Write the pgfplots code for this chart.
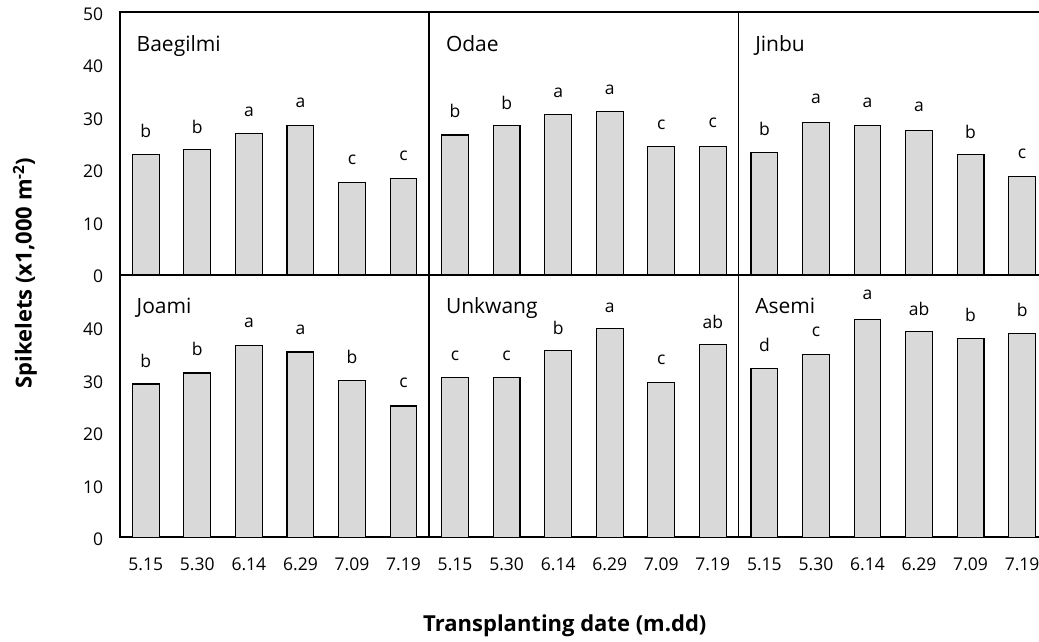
\documentclass[border=0pt]{standalone}
\usepackage{pgfplots}
\pgfplotsset{compat=1.18}
\usepackage{fontspec}
\setmainfont{Open Sans}
\definecolor{barfill}{HTML}{D9D9D9}
\newcommand{\tfs}{\fontsize{17.5}{20}\selectfont}
\newcommand{\pfs}{\fontsize{21}{24}\selectfont}
\newcommand{\lfs}{\bfseries\fontsize{22}{26}\selectfont}
\tikzset{
  bars/.style={fill=barfill, draw=black, line width=1.1pt},
  lett/.style={font=\tfs, inner sep=0pt},
  ttl/.style={font=\pfs, inner sep=0pt, anchor=base west},
}
\pgfplotsset{
  panel/.style={
    scale only axis, width=309.3pt, height=262.5pt,
    xmin=-0.5, xmax=5.5, ymin=0, ymax=50,
    anchor=south west,
    axis line style={line width=1.7pt},
    every outer x axis line/.append style={line width=1.7pt},
    every outer y axis line/.append style={line width=1.7pt},
    major tick length=0pt,
    xtick=\empty, ytick=\empty,
    ybar, bar width=0.52,
    /pgf/number format/assume math mode=true,
    tick label style={font=\tfs},
    yticklabel style={anchor=east, inner sep=0pt, xshift=-16.7pt, yshift=-2pt},
    xticklabel style={anchor=center, inner sep=0pt, yshift=-27pt},
    clip=false,
  },
  bottomrow/.style={xtick={0,...,5}, xticklabels={5.15,5.30,6.14,6.29,7.09,7.19}},
}
\begin{document}
\begin{tikzpicture}
% ---------- top row ----------
\begin{axis}[panel, at={(120pt,367.3pt)}, ytick={0,10,...,50}]
\addplot[bars] coordinates {(0,22.9) (1,23.8) (2,26.9) (3,28.4) (4,17.5) (5,18.4)};
\node[ttl] at (axis cs:-0.18,42.5) {Baegilmi};
\node[lett] at (axis cs:0,27.3) {b};
\node[lett] at (axis cs:1,28.2) {b};
\node[lett] at (axis cs:2,31.1) {a};
\node[lett] at (axis cs:3,32.7) {a};
\node[lett] at (axis cs:4,21.9) {c};
\node[lett] at (axis cs:5,22.7) {c};
\end{axis}
\begin{axis}[panel, at={(429.3pt,367.3pt)}]
\addplot[bars] coordinates {(0,26.6) (1,28.4) (2,30.5) (3,31.1) (4,24.5) (5,24.5)};
\node[ttl] at (axis cs:-0.18,42.5) {Odae};
\node[lett] at (axis cs:0,31.1) {b};
\node[lett] at (axis cs:1,32.7) {b};
\node[lett] at (axis cs:2,34.6) {a};
\node[lett] at (axis cs:3,35.3) {a};
\node[lett] at (axis cs:4,28.5) {c};
\node[lett] at (axis cs:5,29.0) {c};
\end{axis}
\begin{axis}[panel, at={(738.6pt,367.3pt)}]
\addplot[bars] coordinates {(0,23.3) (1,29.0) (2,28.4) (3,27.4) (4,22.9) (5,18.7)};
\node[ttl] at (axis cs:-0.18,42.5) {Jinbu};
\node[lett] at (axis cs:0,27.7) {b};
\node[lett] at (axis cs:1,33.5) {a};
\node[lett] at (axis cs:2,32.8) {a};
\node[lett] at (axis cs:3,31.9) {a};
\node[lett] at (axis cs:4,27.1) {b};
\node[lett] at (axis cs:5,23.0) {c};
\end{axis}
% ---------- bottom row ----------
\begin{axis}[panel, bottomrow, at={(120pt,104.7pt)}, ytick={0,10,...,40}]
\addplot[bars] coordinates {(0,29.2) (1,31.3) (2,36.5) (3,35.3) (4,29.8) (5,25.0)};
\node[ttl] at (axis cs:-0.18,42.6) {Joami};
\node[lett] at (axis cs:0,33.6) {b};
\node[lett] at (axis cs:1,35.8) {b};
\node[lett] at (axis cs:2,40.8) {a};
\node[lett] at (axis cs:3,39.6) {a};
\node[lett] at (axis cs:4,34.3) {b};
\node[lett] at (axis cs:5,29.4) {c};
\end{axis}
\begin{axis}[panel, bottomrow, at={(429.3pt,104.7pt)}]
\addplot[bars] coordinates {(0,30.4) (1,30.4) (2,35.6) (3,39.7) (4,29.5) (5,36.7)};
\node[ttl] at (axis cs:-0.18,42.6) {Unkwang};
\node[lett] at (axis cs:0,34.6) {c};
\node[lett] at (axis cs:1,34.6) {c};
\node[lett] at (axis cs:2,39.8) {b};
\node[lett] at (axis cs:3,43.8) {a};
\node[lett] at (axis cs:4,33.9) {c};
\node[lett] at (axis cs:5,41.1) {ab};
\end{axis}
\begin{axis}[panel, bottomrow, at={(738.6pt,104.7pt)}]
\addplot[bars] coordinates {(0,32.2) (1,34.9) (2,41.5) (3,39.2) (4,37.9) (5,38.8)};
\node[ttl] at (axis cs:-0.18,42.6) {Asemi};
\node[lett] at (axis cs:0,36.7) {d};
\node[lett] at (axis cs:1,39.2) {c};
\node[lett] at (axis cs:2,46.2) {a};
\node[lett] at (axis cs:3,43.5) {ab};
\node[lett] at (axis cs:4,42.4) {b};
\node[lett] at (axis cs:5,43.3) {b};
\end{axis}
% ---------- axis titles ----------
\node[rotate=90, font=\lfs, inner sep=0pt] at (25pt,369pt) {Spikelets (x1,000 m\textsuperscript{-2})};
\node[anchor=base west, inner sep=0pt, font=\lfs] at (423pt,10pt) {Transplanting date (m.dd)};
\pgfresetboundingbox
\useasboundingbox (0,0) rectangle (1039pt,642pt);
\end{tikzpicture}
\end{document}
